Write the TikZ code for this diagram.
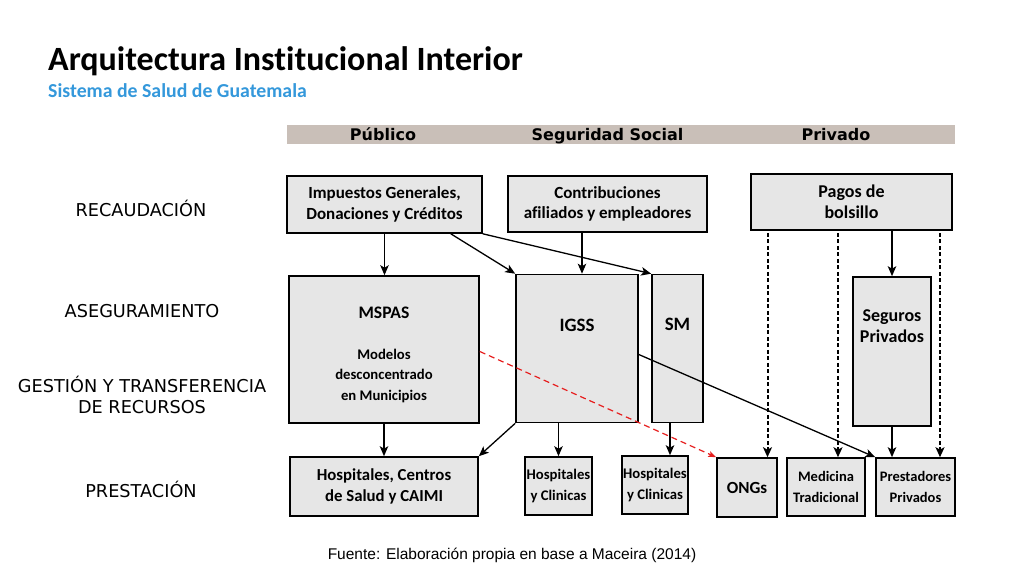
\documentclass[tikz,border=0pt]{standalone}
\usepackage{fontspec}
\setmainfont{Carlito}[Ligatures=NoCommon]
\newfontfamily\levfont{DejaVu Sans}
\newfontfamily\srcfont{Liberation Sans}
\usepackage{tikz}
\usetikzlibrary{arrows,arrows.meta,positioning,calc}

\definecolor{titblue}{RGB}{52,152,219}
\definecolor{barcol}{RGB}{201,191,184}
\definecolor{boxfill}{RGB}{230,230,230}
\definecolor{redline}{RGB}{230,30,30}

\begin{document}
\begin{tikzpicture}[x=1pt,y=-1pt]
% Boxes and arrows

   \tikzstyle{box} = [draw, shape=rectangle, line width=1.6pt, fill=boxfill, align=center, inner sep=0pt, font=\fontsize{17}{20.5}\selectfont\bfseries]
   \tikzstyle{small} = [font=\fontsize{14.7}{20.5}\selectfont\bfseries]
   \tikzstyle{lev} = [font=\levfont\fontsize{17.7}{21}\selectfont, align=center]
   \tikzstyle{head} = [font=\levfont\bfseries\fontsize{16}{18}\selectfont, anchor=base]
   \tikzstyle{arr} = [-{Stealth[length=10pt,width=8.5pt,inset=2.5pt]}, line width=1.3pt]
   \tikzstyle{dasharr} = [-{Stealth[length=10pt,width=9pt,inset=2.5pt]}, line width=2pt, dash pattern=on 4pt off 2.5pt]

\useasboundingbox (0,0) rectangle (1024,576);

\node at (48,70) [anchor = base west, inner sep=0pt, font=\fontsize{34}{40}\selectfont\bfseries] (tit) {Arquitectura Institucional Interior};
\node at (48,97) [anchor = base west, inner sep=0pt, text=titblue, font=\fontsize{19.8}{24}\selectfont\bfseries] (sub) {Sistema de Salud de Guatemala};

\fill[barcol] (287,125) rectangle (955,144);
\node at (383,140) [head] (pub) {Público};
\node at (607.5,140) [head] (seg) {Seguridad Social};
\node at (836,140) [head] (pri) {Privado};

\node at (141,208) [lev] (l1) {RECAUDACIÓN};
\node at (142,311) [lev] (l2) {ASEGURAMIENTO};
\node at (142,395) [lev] (l3) {GESTIÓN Y TRANSFERENCIA\\DE RECURSOS};
\node at (141,489) [lev] (l4) {PRESTACIÓN};

% first row
\node at (384.5,204.5) [box, minimum width=195, minimum height=57] (imp) {Impuestos Generales,\\Donaciones y Créditos};
\node at (607.5,204) [box, minimum width=199, minimum height=56] (con) {Contribuciones\\afiliados y empleadores};
\node at (851.5,202) [box, minimum width=201, minimum height=56, font=\fontsize{18}{21}\selectfont\bfseries] (pag) {Pagos de\\bolsillo};

% second row
\node at (384,349.5) [box, small, minimum width=190, minimum height=147, text height=106, text depth=5] (msp) {{\fontsize{17.6}{20.5}\selectfont MSPAS}\\[20.5pt]Modelos\\desconcentrado\\en Municipios};
\node at (577,348.5) [box, minimum width=122, minimum height=148, text height=10, text depth=45, font=\fontsize{18.9}{21}\selectfont\bfseries] (igs) {IGSS};
\node at (677.5,348.5) [box, minimum width=51, minimum height=148, text height=10, text depth=47, font=\fontsize{18.9}{21}\selectfont\bfseries] (sm) {SM};
\node at (892,351.5) [box, minimum width=78, minimum height=149, text height=10, text depth=29, font=\fontsize{18}{21}\selectfont\bfseries] (sgp) {Seguros\\Privados};

% third row
\node at (384,486.5) [box, minimum width=188, minimum height=59, font=\fontsize{16.8}{20.5}\selectfont\bfseries] (hcs) {Hospitales, Centros\\de Salud y CAIMI};
\node at (558.5,486) [box, small, minimum width=67, minimum height=58] (hc1) {Hospitales\\y Clinicas};
\node at (655,485) [box, small, minimum width=66, minimum height=58] (hc2) {Hospitales\\y Clinicas};
\node at (747,487.5) [box, minimum width=60, minimum height=59] (ong) {ONGs};
\node at (826,487) [box, minimum width=78, minimum height=58, font=\fontsize{14.5}{20.5}\selectfont\bfseries] (med) {Medicina\\Tradicional};
\node at (915.5,487) [box, minimum width=79, minimum height=58, font=\fontsize{14.5}{20.5}\selectfont\bfseries] (pre) {Prestadores\\Privados};

\draw[arr] (imp.south) -- (imp.south |- msp.north);
\draw[arr] ([xshift=-32]imp.south east) -- (igs.north west);
\draw[arr] (imp.south east) -- (sm.north west);
\draw[arr] ([xshift=5]igs.north |- con.south) -- ([xshift=5]igs.north);
\draw[arr] (pag.south -| sgp.north) -- (sgp.north);

\foreach \n/\s in {ong/20.5,med/12,pre/24.5}
    \draw[dasharr] ([xshift=\s, yshift=-2]\n.north |- pag.south) -- ([xshift=\s]\n.north);

\draw[arr] (msp.south) -- (msp.south |- hcs.north);
\draw[arr] (igs.south west) -- (hcs.north east);
\draw[arr] (hc1.north |- igs.south) -- (hc1.north);
\draw[arr] ([xshift=15]hc2.north |- sm.south) -- ([xshift=15]hc2.north);
\draw[arr] ([yshift=-6]igs.east) -- (pre.north west);
\draw[arr] (sgp.south) -- (sgp.south |- pre.north);
\draw[-{Stealth[length=8pt,width=6pt,inset=2pt]}, redline, line width=1.2pt, dash pattern=on 6pt off 4pt] ([yshift=-2]msp.east) -- (ong.north west);

\node at (512,559) [anchor = base, font=\srcfont\fontsize{15.5}{18}\selectfont] (src) {Fuente: Elaboración propia en base a Maceira (2014)};
\end{tikzpicture}
\end{document}
